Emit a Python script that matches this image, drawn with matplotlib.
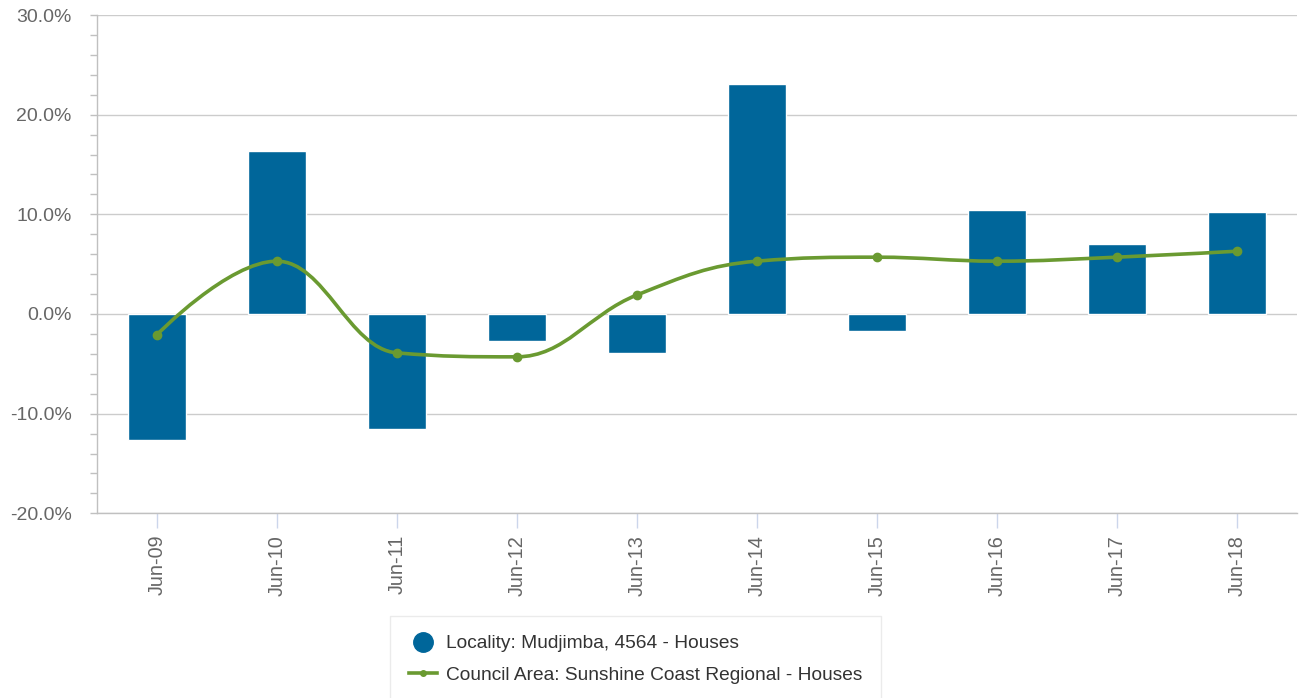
import numpy as np
import matplotlib
matplotlib.use("Agg")
import matplotlib.pyplot as plt
from matplotlib.path import Path
from matplotlib.patches import PathPatch
from matplotlib.lines import Line2D
from matplotlib.ticker import MultipleLocator, FuncFormatter

plt.rcParams['font.family'] = ['Liberation Sans', 'DejaVu Sans']

# annual change in median house value
periods = ['Jun-09', 'Jun-10', 'Jun-11', 'Jun-12', 'Jun-13',
           'Jun-14', 'Jun-15', 'Jun-16', 'Jun-17', 'Jun-18']
locality = [-12.6, 16.4, -11.5, -2.7, -3.9, 23.1, -1.7, 10.4, 7.0, 10.2]
council = [-2.1, 5.3, -3.9, -4.3, 1.9, 5.3, 5.7, 5.3, 5.7, 6.3]

locality_name = 'Locality: Mudjimba, 4564 - Houses'
council_name = 'Council Area: Sunshine Coast Regional - Houses'

BAR_COLOR = '#00669a'
LINE_COLOR = '#6a9a31'
GRID = '#cccccc'
TEXT = '#666666'


def spline_path(xs, ys, smoothing=1.5):
    # cubic bezier through every point, Highcharts-style control points
    denom = smoothing + 1
    n = len(xs)
    right = [None] * n
    verts = [(xs[0], ys[0])]
    codes = [Path.MOVETO]
    for i in range(1, n):
        x, y = xs[i], ys[i]
        lx, ly = xs[i - 1], ys[i - 1]
        left_x, left_y = x, y
        if i < n - 1:
            nx, ny = xs[i + 1], ys[i + 1]
            left_x = (smoothing * x + lx) / denom
            left_y = (smoothing * y + ly) / denom
            rx = (smoothing * x + nx) / denom
            ry = (smoothing * y + ny) / denom
            corr = (ry - left_y) * (rx - x) / (rx - left_x) + y - ry
            left_y += corr
            ry += corr
            if left_y > ly and left_y > y:
                left_y = max(ly, y)
                ry = 2 * y - left_y
            elif left_y < ly and left_y < y:
                left_y = min(ly, y)
                ry = 2 * y - left_y
            if ry > ny and ry > y:
                ry = max(ny, y)
                left_y = 2 * y - ry
            elif ry < ny and ry < y:
                ry = min(ny, y)
                left_y = 2 * y - ry
            right[i] = (rx, ry)
        c1 = right[i - 1] if right[i - 1] is not None else (lx, ly)
        verts += [c1, (left_x, left_y), (x, y)]
        codes += [Path.CURVE4] * 3
    return Path(verts, codes)


fig = plt.figure(figsize=(13, 6.98), dpi=100)
ax = fig.add_axes([0.0744, 0.2646, 0.9231, 0.7139])

x = np.arange(len(periods))
ax.bar(x, locality, width=0.48, color=BAR_COLOR, edgecolor='white',
       linewidth=1.0, zorder=2)

ax.add_patch(PathPatch(spline_path(x, council), fill=False,
                       edgecolor=LINE_COLOR, linewidth=2.6, zorder=3,
                       capstyle='round', joinstyle='round'))
ax.plot(x, council, 'o', color=LINE_COLOR, markersize=6, zorder=4)

ax.set_xlim(-0.5, len(periods) - 0.5)
ax.set_ylim(-20, 30)

ax.yaxis.set_major_locator(MultipleLocator(10))
ax.yaxis.set_minor_locator(MultipleLocator(2))
ax.yaxis.set_major_formatter(FuncFormatter(lambda v, p: f'{v:.1f}%'))
ax.grid(axis='y', which='major', color=GRID, linewidth=1.0, zorder=0)
ax.set_axisbelow(True)

ax.set_xticks(x)
ax.set_xticklabels(periods, rotation=90)

for side in ['top', 'right']:
    ax.spines[side].set_visible(False)
for side in ['left', 'bottom']:
    ax.spines[side].set_color('#c0c0c0')
    ax.spines[side].set_linewidth(1.0)

ax.tick_params(axis='y', which='major', length=5, width=1.0, color='#c0c0c0',
               pad=13, labelsize=14, labelcolor=TEXT)
ax.tick_params(axis='y', which='minor', length=5, width=1.0, color='#c0c0c0')
ax.tick_params(axis='x', length=11, width=1.0, color='#ccd6eb', pad=4.5,
               labelsize=14.3, labelcolor=TEXT)

handles = [
    Line2D([], [], linestyle='none', marker='o', markersize=14,
           color=BAR_COLOR),
    Line2D([], [], color=LINE_COLOR, linewidth=2.6, marker='o',
           markersize=4),
]
leg = fig.legend(handles, [locality_name, council_name],
                 loc='upper left', bbox_to_anchor=(390 / 1300, 1 - 615.7 / 698),
                 fontsize=13.8, frameon=True, fancybox=False,
                 borderpad=1.0, handlelength=1.45, handletextpad=0.45,
                 labelspacing=0.75, borderaxespad=0)
leg.get_frame().set_edgecolor('#e6e6e6')
leg.get_frame().set_linewidth(1.0)
for t in leg.get_texts():
    t.set_color('#333333')

fig.savefig('out.png', dpi=100)
